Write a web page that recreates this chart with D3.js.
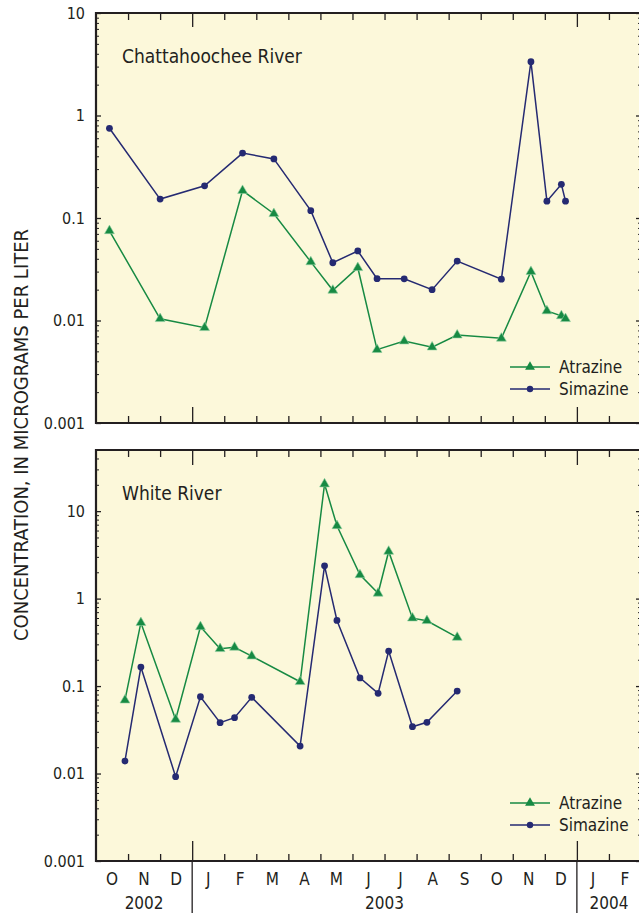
<!DOCTYPE html>
<html>
<head>
<meta charset="utf-8">
<script src="https://cdn.jsdelivr.net/npm/d3@7"></script>
<style>
  html, body { margin: 0; padding: 0; background: #ffffff; }
  svg { display: block; }
  text { font-family: "Liberation Sans Narrow", "Arial Narrow", "DejaVu Sans Condensed", sans-serif; fill: #231f20; }
</style>
</head>
<body>
<svg id="chart" width="639" height="913"></svg>
<script>
// Month labels along the shared time axis (Oct 2002 – Feb 2004)
const monthLabels = ["O","N","D","J","F","M","A","M","J","J","A","S","O","N","D","J","F"];
const yearLabels = ["2002","2003","2004"];
const yearSpans = [[0, 3], [3, 15], [15, 17]];   // month-index spans of each year
const yearBreaks = [3, 15];                       // Jan 2003, Jan 2004

// Chattahoochee River samples
const chattDates = ["2002-10-14","2002-12-01","2003-01-13","2003-02-17","2003-03-18","2003-04-22",
  "2003-05-13","2003-06-06","2003-06-24","2003-07-20","2003-08-16","2003-09-09",
  "2003-10-21","2003-11-18","2003-12-03","2003-12-17","2003-12-21"];
const chattAtrazine = [0.075, 0.0104, 0.0085, 0.185, 0.110, 0.0373,
  0.0197, 0.0327, 0.0052, 0.0063, 0.0055, 0.0072,
  0.0067, 0.030, 0.0124, 0.0111, 0.0104];
const chattSimazine = [0.75, 0.153, 0.206, 0.43, 0.377, 0.118,
  0.0366, 0.0477, 0.0256, 0.0255, 0.020, 0.038,
  0.0253, 3.35, 0.146, 0.213, 0.146];

// White River samples
const whiteDates = ["2002-10-29","2002-11-13","2002-12-16","2003-01-09","2003-01-28","2003-02-10",
  "2003-02-25","2003-04-12","2003-05-05","2003-05-17","2003-06-08","2003-06-25",
  "2003-07-05","2003-07-28","2003-08-11","2003-09-09"];
const whiteAtrazine = [0.069, 0.53, 0.0416, 0.476, 0.267, 0.277,
  0.22, 0.112, 20.4, 6.8, 1.87, 1.15,
  3.46, 0.598, 0.558, 0.36];
const whiteSimazine = [0.0139, 0.165, 0.0092, 0.0755, 0.0381, 0.0435,
  0.0743, 0.0206, 2.37, 0.563, 0.124, 0.0826,
  0.251, 0.0343, 0.0385, 0.0877];

const GREEN = "#178a43";
const NAVY = "#252a72";
const INK = "#231f20";
const PANEL_BG = "#fcf8da";

const svg = d3.select("#chart");

// fractional month index counted from 1 Oct 2002
function monthIndex(s) {
  const d = d3.timeParse("%Y-%m-%d")(s);
  const start = d3.timeMonth.floor(d);
  const next = d3.timeMonth.offset(start, 1);
  const whole = (start.getFullYear() - 2002) * 12 + start.getMonth() - 9;
  return whole + (d - start) / (next - start);
}

const left = 96, right = 641;
const x = d3.scaleLinear().domain([0, 17]).range([left, right]);

const panels = [
  { title: "Chattahoochee River", top: 13, bottom: 423, domain: [0.001, 10],
    dates: chattDates, atrazine: chattAtrazine, simazine: chattSimazine,
    legendY: 367, topLong: 14, bottomLong: 16, bottomExtend: false },
  { title: "White River", top: 450, bottom: 861, domain: [0.001, 50],
    dates: whiteDates, atrazine: whiteAtrazine, simazine: whiteSimazine,
    legendY: 803, topLong: 15, bottomLong: 20, bottomExtend: true }
];

const majorFmt = v => ({0.001: "0.001", 0.01: "0.01", 0.1: "0.1", 1: "1", 10: "10"})[v] || "";

panels.forEach(p => {
  const g = svg.append("g");
  const y = d3.scaleLog().domain(p.domain).range([p.bottom, p.top]);

  g.append("rect").attr("x", left).attr("y", p.top)
    .attr("width", right - left).attr("height", p.bottom - p.top)
    .attr("fill", PANEL_BG);

  const majors = [0.001, 0.01, 0.1, 1, 10].filter(v => v >= p.domain[0] && v <= p.domain[1]);
  const minors = y.ticks().filter(v => !majors.includes(v));

  // left axis
  const la = g.append("g").attr("transform", `translate(${left},0)`)
    .call(d3.axisLeft(y).tickValues(majors).tickSize(-5).tickPadding(11).tickFormat(majorFmt));
  la.select(".domain").remove();
  la.selectAll("text").attr("font-size", 16).attr("fill", INK)
    .style("font-family", null);
  la.selectAll("line").attr("stroke", INK).attr("stroke-width", 1.3);
  const lm = g.append("g").attr("transform", `translate(${left},0)`)
    .call(d3.axisLeft(y).tickValues(minors).tickSize(-3).tickFormat(""));
  lm.select(".domain").remove();
  lm.selectAll("line").attr("stroke", INK).attr("stroke-width", 1);

  // right axis
  const ra = g.append("g").attr("transform", `translate(${right},0)`)
    .call(d3.axisRight(y).tickValues(majors).tickSize(-5).tickFormat(""));
  ra.select(".domain").remove();
  ra.selectAll("line").attr("stroke", INK).attr("stroke-width", 1.3);
  const rm = g.append("g").attr("transform", `translate(${right},0)`)
    .call(d3.axisRight(y).tickValues(minors).tickSize(-3).tickFormat(""));
  rm.select(".domain").remove();
  rm.selectAll("line").attr("stroke", INK).attr("stroke-width", 1);

  // month ticks, top and bottom
  const monthTicks = d3.range(1, 17).filter(m => !yearBreaks.includes(m));
  const ta = g.append("g").attr("transform", `translate(0,${p.top})`)
    .call(d3.axisTop(x).tickValues(monthTicks).tickSize(-7).tickFormat(""));
  ta.select(".domain").remove();
  ta.selectAll("line").attr("stroke", INK).attr("stroke-width", 1.3);
  const tl = g.append("g").attr("transform", `translate(0,${p.top})`)
    .call(d3.axisTop(x).tickValues(yearBreaks).tickSize(-p.topLong).tickFormat(""));
  tl.select(".domain").remove();
  tl.selectAll("line").attr("stroke", INK).attr("stroke-width", 1.3);

  const ba = g.append("g").attr("transform", `translate(0,${p.bottom})`)
    .call(d3.axisBottom(x).tickValues(monthTicks).tickSize(-7).tickFormat(""));
  ba.select(".domain").remove();
  ba.selectAll("line").attr("stroke", INK).attr("stroke-width", 1.3);
  const bl = g.append("g").attr("transform", `translate(0,${p.bottom})`)
    .call(d3.axisBottom(x).tickValues(yearBreaks).tickSize(-p.bottomLong).tickFormat(""));
  bl.select(".domain").remove();
  bl.selectAll("line").attr("stroke", INK).attr("stroke-width", 1.3);

  if (p.bottomExtend) {
    g.selectAll("line.yearsep").data(yearBreaks).join("line")
      .attr("class", "yearsep")
      .attr("x1", d => x(d)).attr("x2", d => x(d))
      .attr("y1", p.bottom).attr("y2", 913)
      .attr("stroke", INK).attr("stroke-width", 1.3);
  }

  // frame: left, top, bottom edges
  g.append("path")
    .attr("d", `M${right},${p.top}H${left}V${p.bottom}H${right}`)
    .attr("fill", "none").attr("stroke", INK).attr("stroke-width", 2.2);

  // title
  g.append("text").attr("x", 122).attr("y", p.top + 50)
    .attr("font-size", 19).text(p.title);

  // series
  const pts = (vals) => p.dates.map((d, i) => [x(monthIndex(d)), y(vals[i])]);
  const line = d3.line();

  const atz = pts(p.atrazine), sim = pts(p.simazine);

  g.append("path").attr("d", line(atz)).attr("fill", "none")
    .attr("stroke", GREEN).attr("stroke-width", 1.5);
  g.append("path").attr("d", line(sim)).attr("fill", "none")
    .attr("stroke", NAVY).attr("stroke-width", 1.5);

  const tri = d3.symbol().type(d3.symbolTriangle).size(42);
  g.selectAll("path.atz").data(atz).join("path").attr("class", "atz")
    .attr("d", tri).attr("transform", d => `translate(${d[0]},${d[1]})`)
    .attr("fill", GREEN).attr("stroke", "#8fcf9f").attr("stroke-width", 0.6);
  g.selectAll("circle.sim").data(sim).join("circle").attr("class", "sim")
    .attr("cx", d => d[0]).attr("cy", d => d[1]).attr("r", 3.4)
    .attr("fill", NAVY);

  // legend
  const lg = g.append("g");
  const items = [["Atrazine", GREEN, "tri"], ["Simazine", NAVY, "dot"]];
  items.forEach((it, i) => {
    const ly = p.legendY + i * 22;
    lg.append("line").attr("x1", 510).attr("x2", 550).attr("y1", ly).attr("y2", ly)
      .attr("stroke", it[1]).attr("stroke-width", 1.5);
    if (it[2] === "tri") {
      lg.append("path").attr("d", tri).attr("transform", `translate(530,${ly})`)
        .attr("fill", it[1]);
    } else {
      lg.append("circle").attr("cx", 530).attr("cy", ly).attr("r", 3.2).attr("fill", it[1]);
    }
    lg.append("text").attr("x", 559).attr("y", ly).attr("dy", "0.36em")
      .attr("font-size", 17).text(it[0]);
  });
});

// month and year labels beneath the lower panel
svg.append("g").selectAll("text").data(monthLabels).join("text")
  .attr("x", (d, i) => x(i + 0.5)).attr("y", 885)
  .attr("text-anchor", "middle").attr("font-size", 17).text(d => d);
svg.append("g").selectAll("text").data(yearLabels).join("text")
  .attr("x", (d, i) => x((yearSpans[i][0] + yearSpans[i][1]) / 2)).attr("y", 909)
  .attr("text-anchor", "middle").attr("font-size", 17).text(d => d);

// shared y-axis title
svg.append("text")
  .attr("transform", "translate(28,435) rotate(-90)")
  .attr("text-anchor", "middle").attr("font-size", 20)
  .text("CONCENTRATION, IN MICROGRAMS PER LITER");
</script>
</body>
</html>
